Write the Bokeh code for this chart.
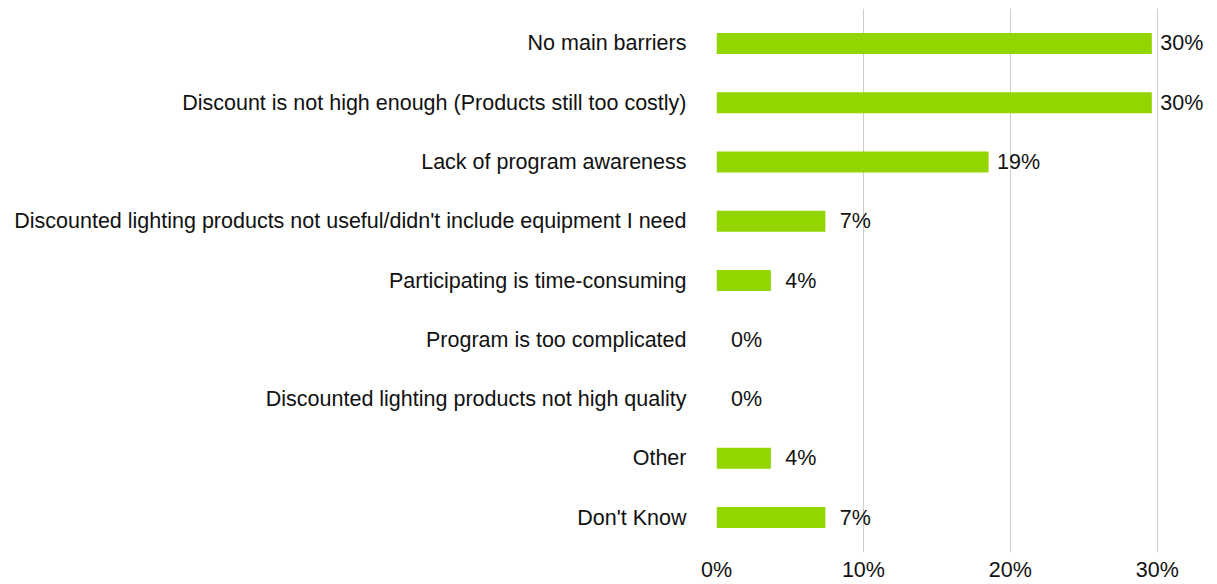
from bokeh.plotting import figure
from bokeh.models import ColumnDataSource, Range1d, FixedTicker, CustomJSTickFormatter
from bokeh.core.properties import value
from bokeh.embed import file_html
from bokeh.resources import INLINE

categories = [
    "No main barriers",
    "Discount is not high enough (Products still too costly)",
    "Lack of program awareness",
    "Discounted lighting products not useful/didn't include equipment I need",
    "Participating is time-consuming",
    "Program is too complicated",
    "Discounted lighting products not high quality",
    "Other",
    "Don't Know",
]
values = [29.63, 29.63, 18.52, 7.41, 3.70, 0.0, 0.0, 3.70, 7.41]
x_ticks = [0, 10, 20, 30]

FONT = "Liberation Sans"
FS = "21.5px"

ypos = list(range(len(categories)))
labels = [f"{int(v + 0.5)}%" for v in values]
src = ColumnDataSource(dict(y=ypos, v=values, lab=labels))

p = figure(width=1217, height=584, output_backend="svg", toolbar_location=None,
           x_range=Range1d(0, 34.1), y_range=Range1d(len(categories) - 1 + 0.59, -0.59),
           min_border_left=716, min_border_right=0, min_border_top=8, min_border_bottom=29)
p.outline_line_color = None
p.background_fill_color = "white"
p.border_fill_color = "white"

p.hbar(y="y", left=0, right="v", height=0.353, source=src,
       fill_color="#93d500", line_color=None)

p.text(x="v", y="y", text="lab", source=src, x_offset=30,
       text_align="center", text_baseline="middle",
       text_font=value(FONT), text_font_size=FS, text_color="#111111")

# x axis
p.xaxis.ticker = FixedTicker(ticks=x_ticks)
p.xaxis.formatter = CustomJSTickFormatter(code="return tick + '%';")
p.xaxis.axis_line_color = None
p.xaxis.major_tick_line_color = None
p.xaxis.minor_tick_line_color = None
p.xaxis.major_tick_out = 0
p.xaxis.major_label_standoff = 5
p.xaxis.major_label_text_font = FONT
p.xaxis.major_label_text_font_size = FS
p.xaxis.major_label_text_color = "#111111"

# y axis with category names
p.yaxis.ticker = FixedTicker(ticks=ypos)
p.yaxis.major_label_overrides = {i: c for i, c in enumerate(categories)}
p.yaxis.axis_line_color = None
p.yaxis.major_tick_line_color = None
p.yaxis.minor_tick_line_color = None
p.yaxis.major_tick_out = 0
p.yaxis.major_label_standoff = 30
p.yaxis.major_label_text_font = FONT
p.yaxis.major_label_text_font_size = FS
p.yaxis.major_label_text_color = "#111111"

p.ygrid.grid_line_color = None
p.xgrid.ticker = FixedTicker(ticks=[10, 20, 30])
p.xgrid.grid_line_color = "#cccccc"
p.xgrid.grid_line_width = 1

open("out.html", "w").write(file_html(p, INLINE))
